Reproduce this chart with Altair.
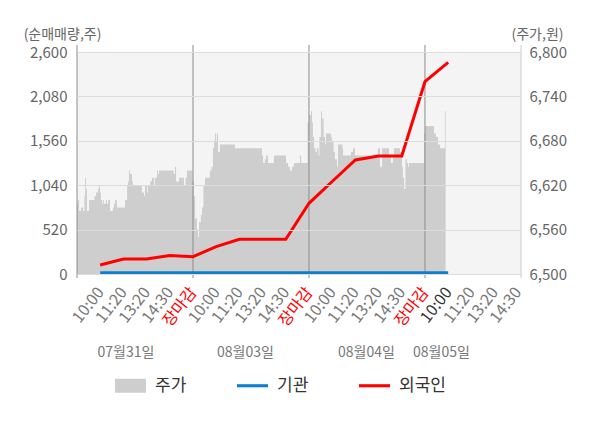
import altair as alt
import pandas as pd

# ---- data ----
# grey area: share price (원), x in time slots (5 slots per trading day)
price_x = [0, 0.04, 0.09, 0.17, 0.26, 0.32, 0.35, 0.39, 0.43, 0.52, 0.75, 0.82, 0.91, 0.95, 0.99,
           1.03, 1.08, 1.12, 1.16, 1.25, 1.29, 1.34, 1.42, 1.55, 1.60, 1.64, 1.72, 2.07, 2.16, 2.20,
           2.24, 2.28, 2.37, 2.41, 2.80, 2.89, 2.93, 3.02, 3.06, 3.15, 3.23, 3.32, 3.36, 3.45, 3.49,
           3.53, 4.16, 4.22, 4.27, 4.40, 4.61, 4.68, 4.74, 4.98, 5.04, 5.09, 5.17, 5.22, 5.26, 5.34,
           5.39, 5.45, 5.52, 5.73, 5.80, 5.86, 5.91, 5.95, 5.99, 6.03, 6.08, 6.16, 6.81, 7.97, 8.02,
           8.10, 8.15, 8.23, 8.49, 9.01, 9.10, 9.18, 9.27, 9.35, 9.61, 9.66, 9.94, 10.00, 10.09, 10.13,
           10.17, 10.22, 10.28, 10.34, 10.41, 10.45, 10.52, 10.56, 10.63, 10.69, 10.73, 10.95, 10.99,
           11.06, 11.12, 11.21, 11.25, 11.44, 11.47, 11.81, 11.90, 11.98, 12.97, 13.06, 13.15, 13.45,
           13.53, 13.62, 13.66, 13.92, 14.01, 14.05, 14.10, 14.16, 14.22, 14.27, 14.31, 14.96, 15.00,
           15.39, 15.47, 15.56, 15.65, 15.86, 15.89]
price_v = [6595, 6600, 6585, 6590, 6585, 6605, 6630, 6615, 6585, 6600, 6605, 6610, 6615, 6620, 6610,
           6600, 6595, 6600, 6595, 6600, 6595, 6600, 6585, 6590, 6595, 6600, 6590, 6600, 6620, 6625,
           6640, 6635, 6625, 6620, 6610, 6605, 6620, 6610, 6620, 6625, 6630, 6620, 6630, 6640, 6635,
           6640, 6635, 6645, 6625, 6630, 6620, 6630, 6640, 6625, 6605, 6575, 6560, 6550, 6570, 6580,
           6590, 6620, 6630, 6640, 6645, 6670, 6680, 6690, 6680, 6690, 6665, 6675, 6670, 6660, 6650,
           6655, 6660, 6650, 6660, 6650, 6645, 6640, 6645, 6650, 6660, 6650, 6705, 6715, 6720, 6705,
           6685, 6670, 6665, 6670, 6660, 6685, 6720, 6710, 6685, 6675, 6690, 6685, 6680,
           6665, 6655, 6645, 6675, 6670, 6660, 6665, 6670, 6660, 6670, 6645, 6670, 6660,
           6650, 6660, 6670, 6665, 6645, 6630, 6615, 6655, 6650, 6645, 6650, 6690, 6700,
           6690, 6685, 6675, 6670, 6720, 6720]

# net buying volume (주) at each labelled time slot
flow_x = [1, 2, 3, 4, 5, 6, 7, 8, 9, 10, 11, 12, 13, 14, 15, 16]
foreign = [105, 176, 176, 217, 203, 320, 406, 406, 406, 828, 1083, 1335, 1382, 1382, 2252, 2479]
institution = [15, 15, 15, 15, 15, 15, 15, 15, 15, 15, 15, 15, 15, 15, 15, 15]

tick_labels = ["10:00", "11:20", "13:20", "14:30", "장마감",
               "10:00", "11:20", "13:20", "14:30", "장마감",
               "10:00", "11:20", "13:20", "14:30", "장마감",
               "10:00", "11:20", "13:20", "14:30"]
day_labels = ["07월31일", "08월03일", "08월04일", "08월05일"]
day_label_x = [2.11, 7.26, 12.48, 15.71]
day_bounds = [0, 5, 10, 15]
x_end = 19.14

series = ["주가", "기관", "외국인"]
series_colors = ["#cecece", "#0b7fcb", "#ff0000"]
left_ticks = [0, 520, 1040, 1560, 2080, 2600]
right_ticks = [6500, 6560, 6620, 6680, 6740, 6800]

# ---- tables ----
price_df = pd.DataFrame({"s": price_x, "price": price_v})
flow_df = pd.concat([
    pd.DataFrame({"s": flow_x, "value": institution, "series": "기관"}),
    pd.DataFrame({"s": flow_x, "value": foreign, "series": "외국인"}),
])
day_df = pd.DataFrame({"s": day_label_x, "label": day_labels})
bound_df = pd.DataFrame({"s": day_bounds})
edge_df = pd.DataFrame({"s": [x_end]})
legend_df = pd.DataFrame({"series": series})

FONT = "Noto Sans CJK KR"
xscale = alt.Scale(domain=[0, x_end], nice=False, zero=False)
color_scale = alt.Scale(domain=series, range=series_colors)
rect_path = "M-1,-0.45H1V0.45H-1Z"
line_path = "M-1,-0.1H1V0.1H-1Z"
shape_scale = alt.Scale(domain=series, range=[rect_path, line_path, line_path])

label_arr = "[" + ",".join("'" + t + "'" for t in tick_labels) + "]"

x_axis = alt.Axis(
    values=list(range(1, 20)),
    labelExpr=label_arr + "[datum.value - 1]",
    labelAngle=-52,
    labelFontSize=16,
    labelPadding=15,
    labelOverlap=False,
    labelFlush=False,
    labelBound=False,
    labelColor={"condition": [{"test": "datum.value % 5 === 0", "value": "#ff0000"},
                              {"test": "datum.value === 16", "value": "#333333"}],
                "value": "#777777"},
    ticks=False,
    grid=False,
    domainColor="#aaaaaa",
    title=None,
)
X = alt.X("s:Q", scale=xscale, axis=x_axis)

leg = alt.Legend(orient="none", legendX=38, legendY=318, direction="horizontal", title=None,
                 symbolSize=961, labelFontSize=17, labelColor="#333333", labelOffset=9,
                 columnPadding=35, gridAlign="all", symbolStrokeWidth=0, symbolOpacity=1)

area = alt.Chart(price_df).mark_area(interpolate="step-after", color="#cecece").encode(
    x=X,
    y=alt.Y("price:Q", scale=alt.Scale(domain=[6500, 6800], nice=False, zero=False),
            axis=alt.Axis(orient="right", values=right_ticks, format=",d", grid=False,
                          ticks=False, domain=False, labelFontSize=15, labelColor="#666666",
                          labelPadding=8, title="(주가,원)", titleAngle=0, titleAlign="center",
                          titleBaseline="middle", titleX=16, titleY=-18, titleFontSize=14,
                          titleFontWeight="normal", titleColor="#666666")),
    y2=alt.datum(6500),
)

bounds = alt.Chart(bound_df).mark_rule(color="#8c8c8c", strokeWidth=1).encode(
    x=X, y=alt.value(-7), y2=alt.value(226))
edge = alt.Chart(edge_df).mark_rule(color="#cccccc", strokeWidth=1).encode(
    x=X, y=alt.value(-7), y2=alt.value(226))

lines = alt.Chart(flow_df).mark_line(strokeWidth=3).encode(
    x=X,
    y=alt.Y("value:Q", scale=alt.Scale(domain=[0, 2600], nice=False),
            axis=alt.Axis(orient="left", values=left_ticks, format=",d", grid=True,
                          gridColor="#dcdcdc", zindex=1, ticks=False, domain=False,
                          labelFontSize=15, labelColor="#666666", labelPadding=10,
                          title="(순매매량,주)", titleAngle=0, titleAlign="center",
                          titleBaseline="middle", titleX=-15, titleY=-18, titleFontSize=14,
                          titleFontWeight="normal", titleColor="#666666")),
    color=alt.Color("series:N", scale=color_scale, legend=leg),
    detail="series:N",
)

dates = alt.Chart(day_df).mark_text(fontSize=14, color="#777777").encode(
    x=X, y=alt.value(301), text="label:N")

# legend-only layer: no rows drawn, but supplies the colour+shape legend
legend_layer = alt.Chart(legend_df).mark_point(filled=True).encode(
    x=alt.value(0), y=alt.value(0),
    color=alt.Color("series:N", scale=color_scale, legend=leg),
    shape=alt.Shape("series:N", scale=shape_scale, legend=leg),
).transform_filter("false")

chart = alt.layer(area, bounds, edge, lines, dates, legend_layer).resolve_scale(
    y="independent"
).properties(
    width=444, height=222,
    padding={"left": 15, "top": 19, "right": 5, "bottom": 5},
).configure(font=FONT).configure_view(fill="#f4f4f4", stroke=None)

chart.save("out.html", embed_options={"renderer": "svg", "actions": False})
